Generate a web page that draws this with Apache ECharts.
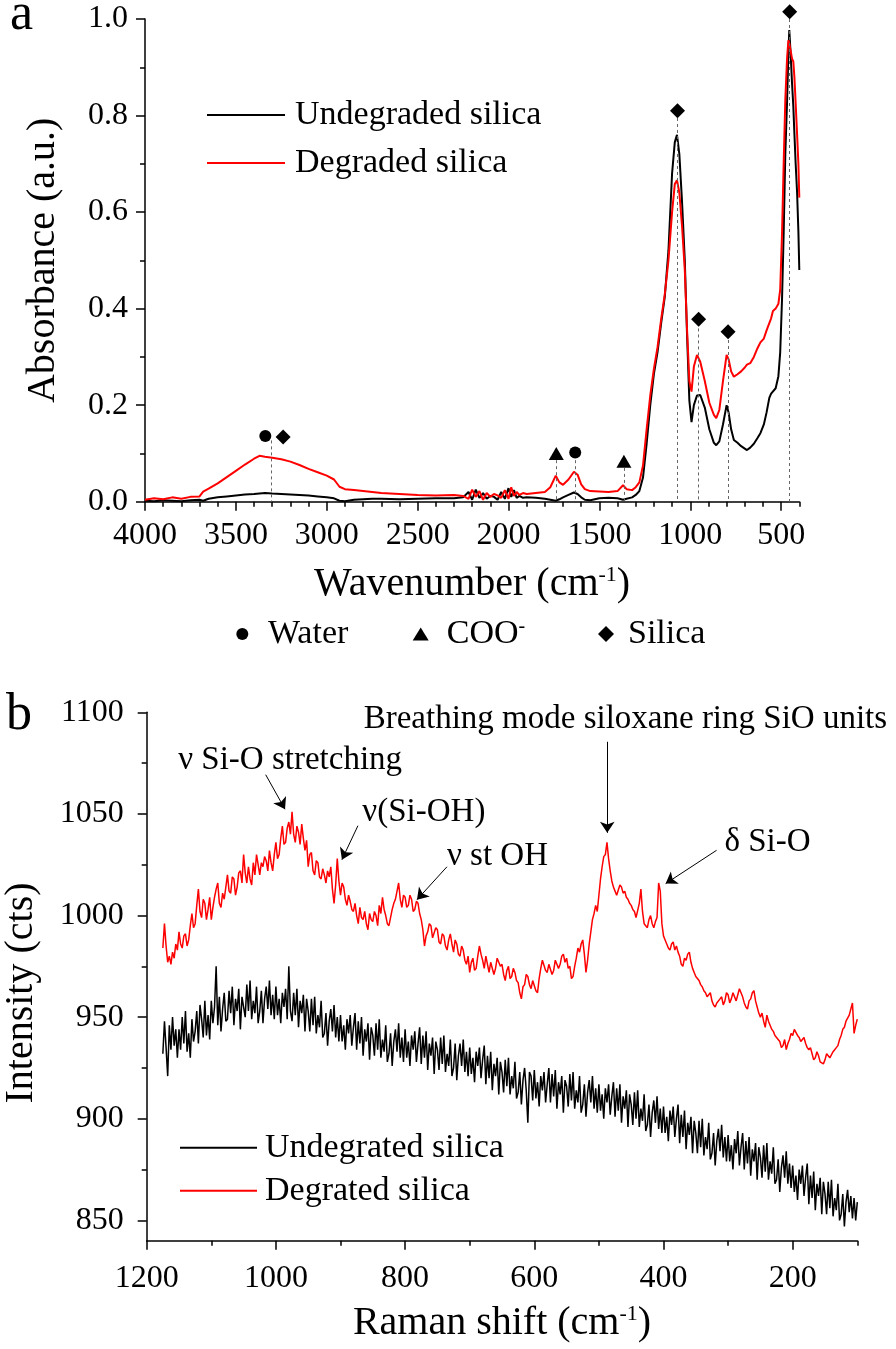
<!DOCTYPE html>
<html>
<head>
<meta charset="utf-8">
<script src="https://cdn.jsdelivr.net/npm/echarts@6/dist/echarts.min.js"></script>
<style>html,body{margin:0;padding:0;background:#fff}#c{width:896px;height:1349px}</style>
</head>
<body>
<div id="c"></div>
<script>
const FONT = 'Liberation Serif';

// ---------- Panel a: FTIR ----------
const ftirWavenumber = [
  4000,3950,3900,3850,3800,3750,3700,3680,3650,3600,
  3550,3500,3450,3400,3370,3340,3300,3250,3200,3150,
  3100,3050,3000,2960,2930,2900,2850,2800,2750,2700,
  2600,2500,2400,2300,2250,2220,2200,2180,2160,2140,
  2120,2100,2080,2060,2040,2020,2000,1985,1970,1955,
  1940,1920,1900,1850,1800,1770,1740,1720,1700,1670,
  1640,1620,1600,1580,1550,1500,1450,1400,1370,1350,
  1320,1300,1280,1260,1240,1220,1200,1180,1160,1140,
  1120,1100,1085,1073,1060,1045,1030,1018,1005,993,
  980,963,945,920,895,870,857,840,820,800,
  789,775,760,740,720,700,688,670,650,630,
  614,595,580,565,555,545,530,515,505,495,
  486,477,467,460,455,448,440,433,427,420,
  412,405,400
];
const ftirUndegraded = [
  0.002,0.001,0.003,0.002,0.001,0.003,0.004,0.002,0.006,0.009,
  0.011,0.013,0.015,0.016,0.017,0.018,0.017,0.016,0.015,0.014,
  0.013,0.011,0.009,0.007,0.002,0.001,0.004,0.005,0.006,0.006,
  0.005,0.006,0.007,0.007,0.009,0.020,0.004,0.025,0.008,0.018,
  0.006,0.012,0.010,0.004,0.020,0.006,0.028,0.010,0.024,0.008,
  0.012,0.008,0.009,0.008,0.006,0.004,0.002,0.005,0.009,0.014,
  0.019,0.016,0.009,0.004,0.003,0.007,0.008,0.007,0.004,0.006,
  0.009,0.014,0.022,0.050,0.120,0.200,0.265,0.310,0.370,0.425,
  0.520,0.680,0.745,0.760,0.720,0.620,0.500,0.350,0.210,0.165,
  0.200,0.220,0.221,0.195,0.150,0.122,0.117,0.125,0.160,0.200,
  0.185,0.150,0.128,0.122,0.115,0.110,0.107,0.112,0.120,0.132,
  0.142,0.160,0.185,0.215,0.224,0.220,0.235,0.260,0.310,0.420,
  0.556,0.720,0.832,0.930,0.977,0.930,0.867,0.820,0.763,0.700,
  0.639,0.560,0.480
];
const ftirDegraded = [
  0.004,0.007,0.005,0.009,0.006,0.010,0.011,0.021,0.027,0.038,
  0.051,0.064,0.077,0.089,0.095,0.093,0.091,0.088,0.083,0.076,
  0.068,0.061,0.054,0.046,0.031,0.026,0.024,0.022,0.020,0.018,
  0.016,0.014,0.013,0.014,0.012,0.006,0.025,0.010,0.022,0.004,
  0.018,0.010,0.016,0.013,0.008,0.024,0.006,0.030,0.012,0.020,
  0.014,0.018,0.016,0.018,0.020,0.030,0.054,0.040,0.035,0.046,
  0.062,0.056,0.036,0.026,0.022,0.021,0.020,0.022,0.034,0.026,
  0.024,0.030,0.040,0.075,0.150,0.220,0.275,0.320,0.378,0.430,
  0.500,0.600,0.658,0.666,0.640,0.570,0.480,0.360,0.250,0.228,
  0.280,0.304,0.290,0.250,0.205,0.180,0.173,0.190,0.250,0.304,
  0.295,0.270,0.259,0.264,0.270,0.278,0.284,0.287,0.300,0.318,
  0.330,0.338,0.355,0.370,0.380,0.395,0.400,0.410,0.440,0.556,
  0.700,0.832,0.920,0.956,0.950,0.935,0.918,0.912,0.880,0.825,
  0.760,0.700,0.630
];
const waterMarks = [[3338, 0.136], [1633, 0.102]];
const cooMarks = [[1737, 0.100], [1365, 0.084]];
const silicaMarks = [[3240, 0.134], [1070, 0.810], [954, 0.378], [792, 0.352], [453, 1.015]];
const guideTops = [[3306, 0.127], [1737, 0.086], [1633, 0.086], [1365, 0.070], [1070, 0.795], [954, 0.359], [792, 0.335], [453, 1.000]];
const ftirMajorTicks = [500,1000,1500,2000,2500,3000,3500,4000];
const ftirMinorTicks = [400,600,700,800,900,1100,1200,1300,1400,1600,1700,1800,1900,2100,2200,2300,2400,2600,2700,2800,2900,3100,3200,3300,3400,3600,3700,3800,3900];

// ---------- Panel b: Raman ----------
const ramanShift = [
  1175,1172.5,1170,1167.5,1165,1162.5,1160,1157.5,1155,1152.5,
  1150,1147.5,1145,1142.5,1140,1137.5,1135,1132.5,1130,1127.5,
  1125,1122.5,1120,1117.5,1115,1112.5,1110,1107.5,1105,1102.5,
  1100,1097.5,1095,1092.5,1090,1087.5,1085,1082.5,1080,1077.5,
  1075,1072.5,1070,1067.5,1065,1062.5,1060,1057.5,1055,1052.5,
  1050,1047.5,1045,1042.5,1040,1037.5,1035,1032.5,1030,1027.5,
  1025,1022.5,1020,1017.5,1015,1012.5,1010,1007.5,1005,1002.5,
  1000,997.5,995,992.5,990,987.5,985,982.5,980,977.5,
  975,972.5,970,967.5,965,962.5,960,957.5,955,952.5,
  950,947.5,945,942.5,940,937.5,935,932.5,930,927.5,
  925,922.5,920,917.5,915,912.5,910,907.5,905,902.5,
  900,897.5,895,892.5,890,887.5,885,882.5,880,877.5,
  875,872.5,870,867.5,865,862.5,860,857.5,855,852.5,
  850,847.5,845,842.5,840,837.5,835,832.5,830,827.5,
  825,822.5,820,817.5,815,812.5,810,807.5,805,802.5,
  800,797.5,795,792.5,790,787.5,785,782.5,780,777.5,
  775,772.5,770,767.5,765,762.5,760,757.5,755,752.5,
  750,747.5,745,742.5,740,737.5,735,732.5,730,727.5,
  725,722.5,720,717.5,715,712.5,710,707.5,705,702.5,
  700,697.5,695,692.5,690,687.5,685,682.5,680,677.5,
  675,672.5,670,667.5,665,662.5,660,657.5,655,652.5,
  650,647.5,645,642.5,640,637.5,635,632.5,630,627.5,
  625,622.5,620,617.5,615,612.5,610,607.5,605,602.5,
  600,597.5,595,592.5,590,587.5,585,582.5,580,577.5,
  575,572.5,570,567.5,565,562.5,560,557.5,555,552.5,
  550,547.5,545,542.5,540,537.5,535,532.5,530,527.5,
  525,522.5,520,517.5,515,512.5,510,507.5,505,502.5,
  500,497.5,495,492.5,490,487.5,485,482.5,480,477.5,
  475,472.5,470,467.5,465,462.5,460,457.5,455,452.5,
  450,447.5,445,442.5,440,437.5,435,432.5,430,427.5,
  425,422.5,420,417.5,415,412.5,410,407.5,405,402.5,
  400,397.5,395,392.5,390,387.5,385,382.5,380,377.5,
  375,372.5,370,367.5,365,362.5,360,357.5,355,352.5,
  350,347.5,345,342.5,340,337.5,335,332.5,330,327.5,
  325,322.5,320,317.5,315,312.5,310,307.5,305,302.5,
  300,297.5,295,292.5,290,287.5,285,282.5,280,277.5,
  275,272.5,270,267.5,265,262.5,260,257.5,255,252.5,
  250,247.5,245,242.5,240,237.5,235,232.5,230,227.5,
  225,222.5,220,217.5,215,212.5,210,207.5,205,202.5,
  200,197.5,195,192.5,190,187.5,185,182.5,180,177.5,
  175,172.5,170,167.5,165,162.5,160,157.5,155,152.5,
  150,147.5,145,142.5,140,137.5,135,132.5,130,127.5,
  125,122.5,120,117.5,115,112.5,110,107.5,105,102.5,
  100
];
const ramanDegraded = [
  984,996,985,977,980,976,982,979,986,983,
  992,986,984,990,991,985,988,995,1001,994,
  996,1005,1013,1002,999,1008,1006,998,1003,1009,
  998,1004,1009,1013,1016,1006,1004,1011,1008,1014,
  1020,1012,1011,1019,1018,1010,1014,1021,1022,1016,
  1030,1021,1016,1024,1018,1015,1026,1020,1030,1025,
  1020,1026,1024,1029,1027,1022,1032,1026,1022,1030,
  1036,1028,1030,1038,1044,1035,1036,1043,1046,1040,
  1051,1040,1036,1044,1041,1035,1045,1038,1032,1037,
  1024,1030,1031,1022,1020,1027,1026,1019,1018,1023,
  1020,1016,1022,1019,1024,1013,1006,1015,1028,1017,
  1010,1016,1014,1008,1005,1010,1007,1003,1002,1006,
  1000,996,1004,999,998,1002,996,993,1001,998,
  997,1002,1000,995,1005,1001,1009,1003,1000,996,
  995,999,1003,1006,1008,1012,1016,1008,1004,1010,
  1009,1004,1005,1010,1008,1002,1003,1007,1006,1001,
  998,993,985,990,992,996,995,989,989,994,
  993,987,986,991,990,985,983,988,991,986,
  982,988,986,981,980,985,983,978,976,980,
  972,977,979,973,974,980,985,981,978,974,
  980,976,972,977,977,971,974,979,979,975,
  976,971,968,973,975,969,970,974,972,968,
  967,962,959,965,966,971,970,966,964,968,
  968,963,962,969,974,978,978,973,972,976,
  976,971,973,978,978,974,976,980,981,977,
  979,974,975,969,970,975,979,984,982,986,
  988,981,972,978,986,992,998,1001,1005,1002,
  1010,1018,1024,1029,1030,1036,1028,1022,1017,1014,
  1012,1010,1010,1015,1014,1011,1012,1009,1008,1006,
  1005,1003,1002,999,999,1006,1013,1002,996,995,
  994,998,1000,996,994,997,999,1016,1012,996,
  990,988,986,984,983,986,987,983,985,982,
  980,976,975,979,978,981,982,977,974,972,
  970,969,968,966,965,963,962,960,960,962,
  958,956,955,957,957,959,960,956,958,962,
  961,957,959,962,962,958,961,964,964,960,
  957,955,954,958,959,962,963,958,955,952,
  950,952,948,945,951,948,946,944,943,941,
  941,939,938,935,936,939,934,937,939,942,
  941,944,944,941,940,938,938,940,937,935,
  934,935,932,929,930,933,931,928,928,927,
  929,932,932,930,930,933,934,935,936,939,
  941,944,945,948,948,951,954,957,942,946,
  949
];
const ramanUndegraded = [
  932,948,935,921,946,934,950,936,944,930,
  944,934,950,937,953,933,942,930,949,938,
  943,953,937,956,949,940,958,941,951,939,
  958,947,955,975,946,960,943,954,962,948,
  949,963,952,965,946,959,953,964,944,960,
  960,950,966,953,968,949,958,952,965,947,
  953,963,947,959,965,954,968,951,961,949,
  965,951,959,947,962,955,964,949,975,953,
  948,962,951,964,945,958,952,961,943,959,
  953,943,959,946,960,942,951,945,958,940,
  942,952,936,948,954,943,956,940,950,938,
  951,938,946,934,949,942,951,936,945,952,
  934,948,937,950,931,944,938,947,929,945,
  941,931,947,934,949,930,939,933,946,928,
  932,942,926,938,944,933,947,930,940,928,
  944,930,938,926,941,934,943,928,937,945,
  927,941,930,943,924,937,931,940,922,938,
  934,924,940,927,941,923,932,926,939,921,
  925,937,919,931,937,926,939,923,933,921,
  935,922,930,918,933,926,935,920,929,936,
  917,931,920,933,914,927,921,930,912,928,
  923,913,929,916,930,912,921,915,928,910,
  913,923,907,919,925,914,898,923,921,909,
  924,910,918,906,921,914,923,908,917,925,
  908,922,911,924,905,918,912,921,903,919,
  916,906,922,909,923,905,914,908,921,903,
  907,917,901,913,919,908,921,905,915,903,
  917,904,912,900,915,908,917,902,911,918,
  901,915,904,917,898,911,905,914,896,912,
  907,897,913,900,914,896,905,899,912,894,
  897,907,891,903,909,898,911,895,905,893,
  906,893,901,889,904,897,906,891,900,907,
  888,902,891,904,885,898,892,901,883,899,
  893,883,899,886,900,882,891,885,898,880,
  883,893,877,889,895,884,897,881,891,879,
  892,879,887,875,890,883,894,877,886,893,
  875,889,878,891,872,885,879,888,870,886,
  881,871,887,874,888,870,879,873,886,868,
  870,880,864,876,882,871,884,868,878,866,
  877,864,872,860,875,868,877,862,871,878,
  858,872,861,874,855,868,862,871,853,869,
  863,853,869,856,870,852,861,855,868,850,
  853,863,847,859,865,854,862,851,861,850,
  859
];
const noteTexts = ['ν Si-O stretching', 'ν(Si-OH)', 'ν st OH', 'Breathing mode siloxane ring SiO units', 'δ Si-O'];
const noteAnchors = [[978, 1076.2], [771, 1050.6], [657, 1029], [459, 1096.3], [239, 1035.8]];
const arrowStarts = [[1015.8, 1069.3], [873, 1044.2], [735.2, 1024.0], [487.1, 1085.5], [317.8, 1032.1]];
const arrowEnds = [[985.9, 1052.3], [897.8, 1027.5], [781.6, 1007.8], [487.1, 1040.7], [396.7, 1015.7]];
const ramanMajorTicks = [200,400,600,800,1000,1200];
const ramanMinorTicks = [100,300,500,700,900,1100];
const intensityMajorTicks = [850,900,950,1000,1050,1100];
const intensityMinorTicks = [875,925,975,1025,1075];

function zip(xs, ys) { return xs.map((x, i) => [x, ys[i]]); }

const axisLineStyle = { show: true, onZero: false, lineStyle: { color: '#000', width: 1.5 } };
const tickStyle = { color: '#000', width: 1.5 };
function labelStyle(extra) {
  return Object.assign({ color: '#000', fontFamily: FONT, fontSize: 32, fontWeight: 'normal',
    formatter: v => String(v) }, extra);
}
const nameBase = { color: '#000', fontFamily: FONT, fontSize: 40,
  rich: { sup: { fontSize: 22, verticalAlign: 'top', fontFamily: FONT, color: '#000' } } };
const legendText = { color: '#000', fontFamily: FONT, fontSize: 34, lineHeight: 34 };

const chart = echarts.init(document.getElementById('c'));
chart.setOption({
  animation: false,
  backgroundColor: '#fff',
  textStyle: { fontFamily: FONT },
  grid: [
    { left: 145, top: 19, width: 654.3, height: 482.7, containLabel: false, outerBoundsMode: 'none' },
    { left: 146.7, top: 712.3, width: 710.6, height: 528.4, containLabel: false, outerBoundsMode: 'none' }
  ],
  xAxis: [
    { gridIndex: 0, type: 'value', min: 400, max: 4000, inverse: true, position: 'bottom',
      name: 'Wavenumber (cm{sup|-1})', nameLocation: 'middle', nameGap: 63, nameMoveOverlap: false,
      nameTextStyle: nameBase, axisLine: axisLineStyle, splitLine: { show: false },
      axisTick: { show: true, inside: false, length: 9, customValues: ftirMajorTicks, lineStyle: tickStyle },
      axisLabel: labelStyle({ customValues: ftirMajorTicks, margin: 18 }) },
    { gridIndex: 0, type: 'value', min: 400, max: 4000, inverse: true, position: 'bottom',
      axisLine: { show: false }, splitLine: { show: false }, axisLabel: { show: false },
      axisTick: { show: true, inside: false, length: 5, customValues: ftirMinorTicks, lineStyle: tickStyle } },
    { gridIndex: 1, type: 'value', min: 100, max: 1200, inverse: true, position: 'bottom',
      name: 'Raman shift (cm{sup|-1})', nameLocation: 'middle', nameGap: 62.5, nameMoveOverlap: false,
      nameTextStyle: nameBase, axisLine: axisLineStyle, splitLine: { show: false },
      axisTick: { show: true, inside: false, length: 9, customValues: ramanMajorTicks, lineStyle: tickStyle },
      axisLabel: labelStyle({ customValues: ramanMajorTicks, margin: 22 }) },
    { gridIndex: 1, type: 'value', min: 100, max: 1200, inverse: true, position: 'bottom',
      axisLine: { show: false }, splitLine: { show: false }, axisLabel: { show: false },
      axisTick: { show: true, inside: false, length: 5, customValues: ramanMinorTicks, lineStyle: tickStyle } }
  ],
  yAxis: [
    { gridIndex: 0, type: 'value', min: 0, max: 1, interval: 0.2, position: 'left',
      name: 'Absorbance (a.u.)', nameLocation: 'middle', nameGap: 81.5, nameMoveOverlap: false,
      nameTextStyle: nameBase, axisLine: axisLineStyle, splitLine: { show: false },
      axisTick: { show: true, inside: false, length: 9, lineStyle: tickStyle },
      minorTick: { show: true, splitNumber: 2, length: 5, lineStyle: tickStyle },
      axisLabel: labelStyle({ margin: 17, formatter: v => v.toFixed(1) }) },
    { gridIndex: 1, type: 'value', min: 840, max: 1100, position: 'left',
      name: 'Intensity (cts)', nameLocation: 'middle', nameGap: 105, nameMoveOverlap: false,
      nameTextStyle: Object.assign({}, nameBase, { padding: [0, 33, 0, 0] }),
      axisLine: axisLineStyle, splitLine: { show: false },
      axisTick: { show: true, inside: false, length: 9, customValues: intensityMajorTicks, lineStyle: tickStyle },
      axisLabel: labelStyle({ customValues: intensityMajorTicks, margin: 23 }) },
    { gridIndex: 1, type: 'value', min: 840, max: 1100, position: 'left',
      axisLine: { show: false }, splitLine: { show: false }, axisLabel: { show: false },
      axisTick: { show: true, inside: false, length: 5, customValues: intensityMinorTicks, lineStyle: tickStyle } }
  ],
  legend: [
    { data: ['Undegraded silica', 'Degraded silica'], orient: 'vertical', left: 207, top: 98, padding: 0,
      icon: 'rect', itemWidth: 78, itemHeight: 2, itemGap: 14, selectedMode: false,
      textStyle: Object.assign({ padding: [0, 0, 0, 5] }, legendText) },
    { data: ['Water'], left: 236.3, top: 617, padding: 0, itemWidth: 12, itemHeight: 12, selectedMode: false,
      itemStyle: { opacity: 1 },
      textStyle: Object.assign({ padding: [0, 0, 0, 14.7] }, legendText) },
    { data: ['COO'], left: 412.7, top: 617, padding: 0, itemWidth: 16, itemHeight: 13, selectedMode: false,
      itemStyle: { opacity: 1 },
      formatter: 'COO{sup|-}',
      textStyle: Object.assign({ padding: [0, 0, 0, 13],
        rich: { sup: { fontSize: 20, verticalAlign: 'top', fontFamily: FONT, color: '#000' } } }, legendText) },
    { data: ['Silica'], left: 598, top: 617, padding: 0, itemWidth: 16, itemHeight: 16, selectedMode: false,
      itemStyle: { opacity: 1 },
      textStyle: Object.assign({ padding: [0, 0, 0, 9] }, legendText) },
    { data: ['Undegrated silica', 'Degrated silica'], orient: 'vertical', left: 180, top: 1130.7, padding: 0,
      icon: 'rect', itemWidth: 77, itemHeight: 2, itemGap: 9, selectedMode: false,
      textStyle: Object.assign({ padding: [0, 0, 0, 3] }, legendText) }
  ],
  graphic: [
    { type: 'text', x: 10, y: 15.5, style: { text: 'a', font: '52px "Liberation Serif"', fill: '#000', verticalAlign: 'middle', align: 'left' } },
    { type: 'text', x: 6, y: 715, style: { text: 'b', font: '52px "Liberation Serif"', fill: '#000', verticalAlign: 'middle', align: 'left' } }
  ],
  series: [
    { name: 'guides', type: 'scatter', xAxisIndex: 0, yAxisIndex: 0, data: guideTops, symbolSize: 0, silent: true, z: 1,
      markLine: { silent: true, symbol: ['none', 'none'], label: { show: false },
        lineStyle: { type: [3, 3], color: '#666', width: 1, opacity: 1 },
        data: guideTops.map(g => [{ coord: [g[0], g[1]] }, { coord: [g[0], 0] }]) } },
    { name: 'Undegraded silica', type: 'line', xAxisIndex: 0, yAxisIndex: 0, data: zip(ftirWavenumber, ftirUndegraded),
      symbol: 'none', lineStyle: { color: '#000', width: 2 }, itemStyle: { color: '#000' }, z: 2 },
    { name: 'Degraded silica', type: 'line', xAxisIndex: 0, yAxisIndex: 0, data: zip(ftirWavenumber, ftirDegraded),
      symbol: 'none', lineStyle: { color: '#ff0000', width: 2 }, itemStyle: { color: '#ff0000' }, z: 2 },
    { name: 'Water', type: 'scatter', xAxisIndex: 0, yAxisIndex: 0, data: waterMarks, symbol: 'circle', symbolSize: 12,
      itemStyle: { color: '#000', opacity: 1 }, clip: false, z: 3 },
    { name: 'COO', type: 'scatter', xAxisIndex: 0, yAxisIndex: 0, data: cooMarks, symbol: 'triangle', symbolSize: [15, 13],
      itemStyle: { color: '#000', opacity: 1 }, clip: false, z: 3 },
    { name: 'Silica', type: 'scatter', xAxisIndex: 0, yAxisIndex: 0, data: silicaMarks, symbol: 'diamond', symbolSize: [15, 15],
      itemStyle: { color: '#000', opacity: 1 }, clip: false, z: 3 },
    { name: 'Undegrated silica', type: 'line', xAxisIndex: 2, yAxisIndex: 1, data: zip(ramanShift, ramanUndegraded),
      symbol: 'none', lineStyle: { color: '#000', width: 1.5 }, itemStyle: { color: '#000' }, z: 2 },
    { name: 'Degrated silica', type: 'line', xAxisIndex: 2, yAxisIndex: 1, data: zip(ramanShift, ramanDegraded),
      symbol: 'none', lineStyle: { color: '#ff0000', width: 1.5 }, itemStyle: { color: '#ff0000' }, z: 2 },
    { name: 'notes', type: 'scatter', xAxisIndex: 2, yAxisIndex: 1, data: noteAnchors, symbolSize: 1, clip: false, silent: true, z: 4,
      itemStyle: { color: '#000', opacity: 0 },
      label: { show: true, position: 'inside', formatter: p => noteTexts[p.dataIndex],
        color: '#000', opacity: 1, fontFamily: FONT, fontSize: 33 },
      markLine: { silent: true, symbol: ['none', 'arrow'], symbolSize: 11, label: { show: false },
        itemStyle: { color: '#000', opacity: 1 },
        lineStyle: { type: 'solid', color: '#000', width: 1, opacity: 1 },
        data: arrowStarts.map((s, i) => [{ coord: s }, { coord: arrowEnds[i] }]) } }
  ]
});
</script>
</body>
</html>
